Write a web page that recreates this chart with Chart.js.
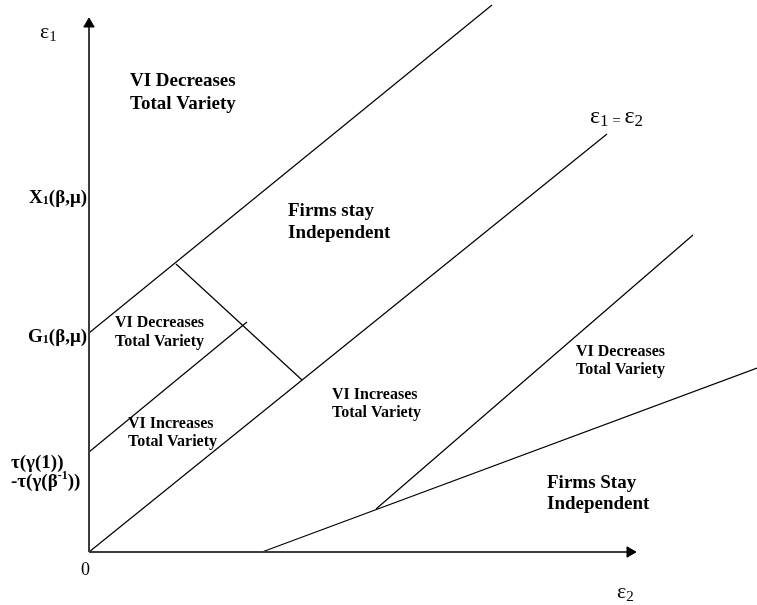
<!DOCTYPE html>
<html>
<head>
<meta charset="utf-8">
<script src="https://cdn.jsdelivr.net/npm/chart.js@4"></script>
<style>
body{margin:0;background:#fff;}
</style>
</head>
<body>
<canvas id="myChart" width="757" height="605"></canvas>
<script>
// boundary lines as (e2, e1) pairs, plot units
const diagonal = [[0, 0], [10.36, 8.36]];
const upperLine = [[0, 4.38], [8.06, 10.94]];
const middleLine = [[0, 2.0], [3.16, 4.6]];
const crossLine = [[1.74, 5.76], [4.26, 3.44]];
const lowerLine = [[5.74, 0.86], [12.08, 6.34]];
const flatLine = [[3.46, 0], [13.36, 3.68]];

// axis lengths
const yAxisEnd = 10.56;
const xAxisEnd = 10.82;

// tick label levels on the e1 axis
const tickLevels = [7.08, 4.3, 1.78];

const toPts = arr => arr.map(p => ({x: p[0], y: p[1]}));

const serif = '"Liberation Serif", "Times New Roman", serif';

function drawRuns(ctx, runs, px, py, align) {
  let w = 0;
  runs.forEach(r => {
    ctx.font = (r.bold ? 'bold ' : '') + r.size + 'px ' + serif;
    r.w = ctx.measureText(r.t).width;
    w += r.w;
  });
  let cx = align === 'right' ? px - w : px;
  ctx.textAlign = 'left';
  ctx.textBaseline = 'middle';
  runs.forEach(r => {
    ctx.font = (r.bold ? 'bold ' : '') + r.size + 'px ' + serif;
    ctx.fillText(r.t, cx, py + (r.dy || 0));
    cx += r.w;
  });
}

// region captions: left edge, middle of first line (plot units)
const regions = [
  {lines: ['VI Decreases', 'Total Variety'], x: 0.82, y: 9.42, size: 19, gap: 23},
  {lines: ['Firms stay', 'Independent'], x: 3.98, y: 6.82, size: 19, gap: 22},
  {lines: ['VI Decreases', 'Total Variety'], x: 0.52, y: 4.58, size: 16, gap: 19},
  {lines: ['VI Increases', 'Total Variety'], x: 0.78, y: 2.56, size: 16, gap: 18},
  {lines: ['VI Increases', 'Total Variety'], x: 4.86, y: 3.14, size: 16, gap: 18},
  {lines: ['VI Decreases', 'Total Variety'], x: 9.74, y: 4.0, size: 16, gap: 18},
  {lines: ['Firms Stay', 'Independent'], x: 9.16, y: 1.38, size: 19, gap: 21}
];

const textPlugin = {
  id: 'texts',
  afterDatasetsDraw(chart) {
    const ctx = chart.ctx;
    const sx = chart.scales.x, sy = chart.scales.y;
    ctx.save();
    ctx.fillStyle = '#000';

    regions.forEach(r => {
      const px = sx.getPixelForValue(r.x);
      const py = sy.getPixelForValue(r.y);
      r.lines.forEach((t, i) => {
        drawRuns(ctx, [{t: t, size: r.size, bold: true}], px, py + i * r.gap, 'left');
      });
    });

    // e1 axis labels
    const ax = sx.getPixelForValue(-0.04);
    drawRuns(ctx, [{t: 'X', size: 19, bold: true}, {t: '1', size: 12, bold: true, dy: 3},
      {t: '(β,μ)', size: 19, bold: true}], ax, sy.getPixelForValue(tickLevels[0]), 'right');
    drawRuns(ctx, [{t: 'G', size: 19, bold: true}, {t: '1', size: 12, bold: true, dy: 3},
      {t: '(β,μ)', size: 19, bold: true}], ax, sy.getPixelForValue(tickLevels[1]), 'right');
    const tx = sx.getPixelForValue(-1.56);
    const ty = sy.getPixelForValue(tickLevels[2]);
    drawRuns(ctx, [{t: 'τ(γ(1))', size: 19, bold: true}], tx, ty, 'left');
    drawRuns(ctx, [{t: '-τ(γ(β', size: 19, bold: true}, {t: '-1', size: 12, bold: true, dy: -6},
      {t: '))', size: 19, bold: true}], tx, ty + 19, 'left');

    // axis names
    drawRuns(ctx, [{t: 'ε', size: 22}, {t: '1', size: 15, dy: 5}],
      sx.getPixelForValue(-0.98), sy.getPixelForValue(10.4), 'left');
    drawRuns(ctx, [{t: 'ε', size: 22}, {t: '2', size: 15, dy: 5}],
      sx.getPixelForValue(10.56), sy.getPixelForValue(-0.8), 'left');
    drawRuns(ctx, [{t: '0', size: 18}],
      sx.getPixelForValue(-0.16), sy.getPixelForValue(-0.36), 'left');
    drawRuns(ctx, [{t: 'ε', size: 24}, {t: '1', size: 17, dy: 5}, {t: ' = ', size: 15, dy: 4},
      {t: 'ε', size: 24}, {t: '2', size: 17, dy: 5}],
      sx.getPixelForValue(10.02), sy.getPixelForValue(8.7), 'left');

    ctx.restore();
  }
};

function lineSet(arr) {
  return {
    data: toPts(arr),
    showLine: true,
    borderColor: '#000',
    borderWidth: 1.2,
    pointRadius: 0,
    fill: false,
    clip: false
  };
}

function axisSet(arr, rot) {
  return {
    data: toPts(arr),
    showLine: true,
    borderColor: '#3c3c3c',
    borderWidth: 2,
    pointStyle: 'triangle',
    pointRadius: [0, 6],
    rotation: rot,
    pointBackgroundColor: '#000',
    pointBorderColor: '#000',
    pointBorderWidth: 1,
    fill: false,
    clip: false
  };
}

const config = {
  type: 'scatter',
  data: {
    datasets: [
      axisSet([[0, 0], [0, yAxisEnd]], 0),
      axisSet([[0, 0], [xAxisEnd, 0]], 90),
      lineSet(diagonal),
      lineSet(upperLine),
      lineSet(middleLine),
      lineSet(crossLine),
      lineSet(lowerLine),
      lineSet(flatLine)
    ]
  },
  options: {
    responsive: false,
    animation: false,
    devicePixelRatio: 1,
    layout: {padding: 0, autoPadding: false},
    scales: {
      x: {type: 'linear', display: false, min: -1.78, max: 13.36},
      y: {type: 'linear', display: false, min: -1.06, max: 11.04}
    },
    plugins: {
      legend: {display: false},
      tooltip: {enabled: false}
    }
  },
  plugins: [textPlugin]
};

const myChart = new Chart(document.getElementById('myChart'), config);
</script>
</body>
</html>
